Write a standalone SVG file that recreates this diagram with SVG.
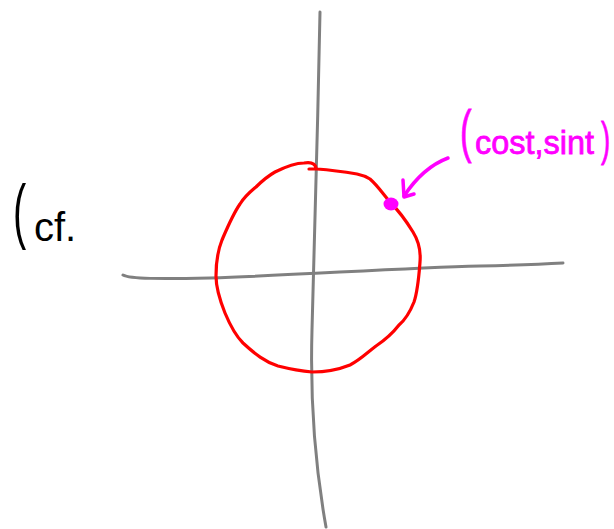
<svg xmlns="http://www.w3.org/2000/svg" width="614" height="529" viewBox="0 0 614 529">
<style>
.axis{fill:none;stroke:#808080;stroke-width:3;stroke-linecap:round}
.circ{fill:none;stroke:#ff0000;stroke-width:3.2;stroke-linecap:round;stroke-linejoin:round}
.mag{fill:none;stroke:#ff00ff;stroke-width:3.5;stroke-linecap:round;stroke-linejoin:round}
.hand{font-family:"Liberation Sans","DejaVu Sans",sans-serif}
.pt{fill:#ff00ff;stroke:#ff00ff;stroke-width:0.8}
</style>
<rect width="614" height="529" fill="#ffffff"/>
<g id="axes">
<path class="axis" d="M320,12 C318,120 314,250 312,330 C310,400 314,460 326,527"/>
<path class="axis" d="M123,275 C130,279 160,279 210,278 C300,275 400,268 480,266 C520,265 545,264 563,263"/>
</g>
<g id="circle">
<path class="circ" d="M309,169 L317,169 C330,170 345,172 357,174 C362,175 367,177 370,179 C378,186 383,194 390,202 C397,209 405,219 413,232 C418,240 421,250 420,262 C419,275 418,290 414,302 C410,312 405,320 399,325 C392,334 385,340 376,346 C368,352 360,360 350,365 C340,369 328,372 312,372 C300,371 290,369 278,366 C265,362 255,354 243,343 C236,336 230,325 225,313 C219,298 216,288 216,276 C216,262 218,250 222,240 C228,226 233,214 240,204 C245,196 250,192 256,187 C262,181 268,176 275,172 C285,167 295,163 304,163 C310,162 315,163 316,168"/>
</g>
<g id="point">
<ellipse cx="391" cy="204" rx="7.5" ry="6.5" fill="#ff00ff"/>
</g>
<g id="connectors">
<path class="mag" d="M448,158 C432,164 416,178 404,196"/>
<path class="mag" d="M403,180 L404,197 L414,194"/>
</g>
<g id="label-point">
<text class="hand pt" transform="translate(460,151) scale(0.6,1)" font-size="58">(</text>
<text class="hand pt" x="475" y="154" font-size="34" textLength="119" lengthAdjust="spacingAndGlyphs">cost,sint</text>
<text class="hand pt" transform="translate(601,155) scale(0.6,1)" font-size="46">)</text>
</g>
<g id="label-cf">
<text class="hand" transform="translate(13,235) scale(0.55,1)" font-size="72" fill="#000000">(</text>
<text class="hand" x="34" y="241" font-size="40" fill="#000000">cf.</text>
</g>
</svg>
